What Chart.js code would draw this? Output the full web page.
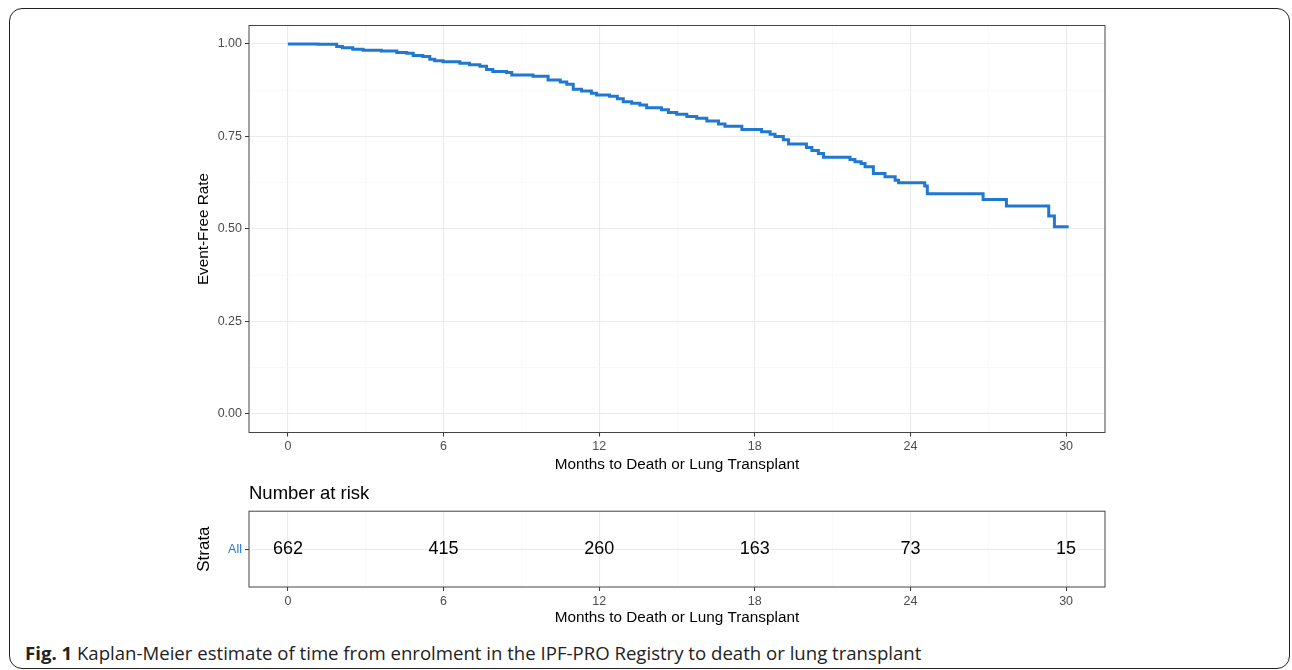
<!DOCTYPE html>
<html>
<head>
<meta charset="utf-8">
<script src="https://cdn.jsdelivr.net/npm/chart.js@4"></script>
<style>
  body { margin: 0; background: #fff; width: 1292px; height: 670px; overflow: hidden; position: relative; }
  .frame { position: absolute; left: 9px; top: 8px; width: 1279px; height: 659px; border: 1.5px solid #222; border-radius: 13px; }
  canvas { position: absolute; }
  #kmChart { left: 180px; top: 15px; }
  #riskChart { left: 180px; top: 480px; }
  .caption { position: absolute; left: 25px; top: 640px; font: 18.6px "Open Sans", sans-serif; color: #222; white-space: nowrap; }
  .caption b { font-weight: 700; }
</style>
</head>
<body>
<div class="frame"></div>
<canvas id="kmChart" width="940" height="470"></canvas>
<canvas id="riskChart" width="940" height="150"></canvas>
<div class="caption"><b>Fig. 1</b> Kaplan-Meier estimate of time from enrolment in the IPF-PRO Registry to death or lung transplant</div>
<script>
// Kaplan-Meier curve (months, event-free rate after the step)
const months = [0, 1.17, 1.88, 2.1, 2.5, 2.9, 3.6, 4.2, 4.58, 4.83, 5.2, 5.47, 5.66, 5.98, 6.63, 7.0, 7.4, 7.66, 7.9, 8.43,
  8.63, 9.45, 10.03, 10.5, 10.75, 11.0, 11.32, 11.7, 11.9, 12.4, 12.7, 12.93, 13.25, 13.57, 13.83, 14.4, 14.67, 14.99, 15.38, 15.76,
  16.15, 16.6, 16.85, 17.5, 18.26, 18.59, 18.78, 19.1, 19.3, 19.99, 20.2, 20.45, 20.65, 21.67, 21.86, 22.1, 22.25, 22.57, 23.02, 23.41,
  23.54, 24.55, 24.65, 26.8, 27.7, 29.33, 29.55, 30.1];
const eventFree = [1.0, 0.999, 0.993, 0.990, 0.986, 0.983, 0.981, 0.977, 0.975, 0.969, 0.966, 0.959, 0.955, 0.952, 0.948, 0.944, 0.940, 0.931, 0.926, 0.923,
  0.916, 0.913, 0.903, 0.897, 0.891, 0.878, 0.873, 0.867, 0.862, 0.859, 0.852, 0.844, 0.840, 0.835, 0.828, 0.822, 0.815, 0.810, 0.804, 0.799,
  0.792, 0.784, 0.778, 0.769, 0.763, 0.756, 0.750, 0.741, 0.730, 0.720, 0.712, 0.704, 0.694, 0.688, 0.682, 0.677, 0.668, 0.650, 0.641, 0.632,
  0.625, 0.616, 0.595, 0.580, 0.562, 0.535, 0.506, 0.506];

// Axes
const majorMonths = [0, 6, 12, 18, 24, 30];
const minorMonths = [3, 9, 15, 21, 27];
const majorRates = [0, 0.25, 0.5, 0.75, 1];
const minorRates = [0.125, 0.375, 0.625, 0.875];

// Number at risk table
const strata = ['All'];
const riskMonths = [0, 6, 12, 18, 24, 30];
const atRisk = [662, 415, 260, 163, 73, 15];

const BLUE = '#1f78d2';
const FONT = '"Liberation Sans", Arial, sans-serif';

Chart.defaults.font.family = FONT;
Chart.defaults.animation = false;
Chart.defaults.plugins.legend.display = false;
Chart.defaults.plugins.tooltip.enabled = false;

const isIn = (list, v) => list.some(m => Math.abs(m - v) < 1e-6);

function setTicks(values) {
    return scale => {
        scale.ticks = values.slice().sort((a, b) => a - b).map(v => ({ value: v }));
    };
}

function gridFor(major) {
    return {
        color: c => isIn(major, c.tick.value) ? '#ebebeb' : '#f5f5f5',
        lineWidth: c => isIn(major, c.tick.value) ? 1.1 : 0.6,
        tickColor: c => isIn(major, c.tick.value) ? '#333' : 'rgba(0,0,0,0)',
        tickLength: 4,
        tickWidth: 1,
        drawTicks: true
    };
}

// ggplot-style panel border
const panelBorder = {
    id: 'panelBorder',
    afterDraw(chart) {
        const { ctx, chartArea: a } = chart;
        ctx.save();
        ctx.strokeStyle = '#444';
        ctx.lineWidth = 1;
        ctx.strokeRect(a.left, a.top, a.right - a.left, a.bottom - a.top);
        ctx.restore();
    }
};

function monthAxis(height, titlePad) {
    return {
        type: 'linear',
        min: -1.5,
        max: 31.5,
        afterBuildTicks: setTicks([...majorMonths, ...minorMonths]),
        afterFit: s => { s.height = height; },
        ticks: {
            autoSkip: false,
            maxRotation: 0,
            padding: 3,
            color: '#4d4d4d',
            font: { size: 12.5 },
            callback: v => isIn(majorMonths, v) ? String(v) : ''
        },
        grid: gridFor(majorMonths),
        border: { display: false },
        title: {
            display: true,
            text: 'Months to Death or Lung Transplant',
            color: '#000',
            font: { size: 15.3 },
            padding: { top: 0, bottom: titlePad }
        }
    };
}

// Main Kaplan-Meier chart
new Chart(document.getElementById('kmChart'), {
    type: 'line',
    data: {
        datasets: [{
            data: months.map((m, i) => ({ x: m, y: eventFree[i] })),
            borderColor: BLUE,
            borderWidth: 3,
            pointRadius: 0,
            stepped: true,
            fill: false
        }]
    },
    options: {
        responsive: false,
        devicePixelRatio: 1,
        layout: { padding: { left: 0, top: 10.5, right: 15, bottom: 0 } },
        scales: {
            x: monthAxis(52.5, 11),
            y: {
                min: -0.05,
                max: 1.05,
                afterBuildTicks: setTicks([...majorRates, ...minorRates]),
                afterFit: s => { s.width = 69; },
                ticks: {
                    autoSkip: false,
                    padding: 3,
                    color: '#4d4d4d',
                    font: { size: 12.5 },
                    callback: v => isIn(majorRates, v) ? v.toFixed(2) : ''
                },
                grid: gridFor(majorRates),
                border: { display: false },
                title: {
                    display: true,
                    text: 'Event-Free Rate',
                    color: '#000',
                    font: { size: 15.3 },
                    padding: { top: 15, bottom: 0 }
                }
            }
        }
    },
    plugins: [panelBorder]
});

// Numbers at risk written at each time point
const riskLabels = {
    id: 'riskLabels',
    afterDatasetsDraw(chart) {
        const { ctx } = chart;
        const meta = chart.getDatasetMeta(0);
        ctx.save();
        ctx.font = '18px ' + FONT;
        ctx.fillStyle = '#000';
        ctx.textAlign = 'center';
        ctx.textBaseline = 'middle';
        meta.data.forEach((pt, i) => ctx.fillText(String(atRisk[i]), pt.x, pt.y));
        ctx.restore();
    }
};

new Chart(document.getElementById('riskChart'), {
    type: 'line',
    data: {
        datasets: [{
            data: riskMonths.map(m => ({ x: m, y: strata[0] })),
            showLine: false,
            pointRadius: 0
        }]
    },
    options: {
        responsive: false,
        devicePixelRatio: 1,
        layout: { padding: { left: 0, top: 3, right: 15, bottom: 0 } },
        plugins: {
            title: {
                display: true,
                text: 'Number at risk',
                align: 'start',
                fullSize: false,
                color: '#000',
                font: { size: 18.5, weight: 'normal' },
                padding: { top: 0, bottom: 6 }
            }
        },
        scales: {
            x: monthAxis(43, 3),
            y: {
                type: 'category',
                labels: strata,
                offset: true,
                afterFit: s => { s.width = 69; },
                ticks: { color: BLUE, padding: 3, font: { size: 12.5 } },
                grid: { offset: false, color: '#ebebeb', lineWidth: 1.1, tickColor: '#333', tickLength: 4, tickWidth: 1 },
                border: { display: false },
                title: {
                    display: true,
                    text: 'Strata',
                    color: '#000',
                    font: { size: 17 },
                    padding: { top: 14, bottom: 0 }
                }
            }
        }
    },
    plugins: [panelBorder, riskLabels]
});
</script>
</body>
</html>
